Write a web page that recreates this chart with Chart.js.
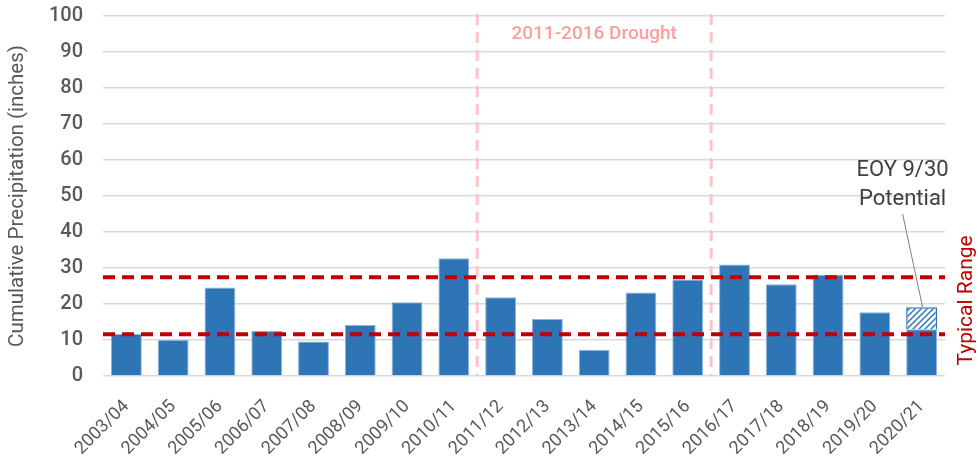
<!DOCTYPE html>
<html>
<head>
<meta charset="utf-8">
<script src="https://cdn.jsdelivr.net/npm/chart.js@4.4.1/dist/chart.umd.min.js"></script>
<style>
  html, body { margin: 0; padding: 0; background: #ffffff; }
  #wrap { width: 978px; height: 461px; position: relative; }
</style>
</head>
<body>
<div id="wrap"><canvas id="c" width="978" height="461"></canvas></div>
<script>
const seasons = ['2003/04','2004/05','2005/06','2006/07','2007/08','2008/09','2009/10','2010/11','2011/12','2012/13','2013/14','2014/15','2015/16','2016/17','2017/18','2018/19','2019/20','2020/21'];
const precipitation = [11.7, 10.0, 24.6, 12.6, 9.6, 14.2, 20.5, 32.7, 21.9, 15.8, 7.3, 23.2, 26.8, 31.0, 25.5, 28.1, 17.7, 13.0];
const eoyPotential = [null, null, null, null, null, null, null, null, null, null, null, null, null, null, null, null, null, 6.1];
const typicalLow = 11.6;
const typicalHigh = 27.4;
const droughtStartIndex = 8;   // 2011/12
const droughtEndIndex = 13;    // 2016/17
const yMin = 0, yMax = 100, yStep = 10;

const FONT = 'Roboto, "DejaVu Sans", sans-serif';
const GREY = '#595959';

function hatchPattern() {
  const p = document.createElement('canvas');
  p.width = 6; p.height = 6;
  const g = p.getContext('2d');
  g.fillStyle = '#ffffff';
  g.fillRect(0, 0, 6, 6);
  g.strokeStyle = '#2E75B6';
  g.lineWidth = 1.5;
  g.beginPath();
  g.moveTo(0, 6); g.lineTo(6, 0);
  g.moveTo(-3, 3); g.lineTo(3, -3);
  g.moveTo(3, 9); g.lineTo(9, 3);
  g.stroke();
  return g.createPattern(p, 'repeat');
}

const annotations = {
  id: 'annotations',
  afterDatasetsDraw(chart) {
    const { ctx, chartArea: { left, right, top, bottom }, scales: { x, y } } = chart;
    const between = i => (x.getPixelForValue(i - 1) + x.getPixelForValue(i)) / 2;
    const xa = between(droughtStartIndex), xb = between(droughtEndIndex);
    ctx.save();
    // drought boundaries
    ctx.strokeStyle = '#FFC4C8';
    ctx.lineWidth = 3;
    ctx.setLineDash([11, 7]);
    [xa, xb].forEach(px => {
      ctx.beginPath(); ctx.moveTo(px, top - 2); ctx.lineTo(px, bottom); ctx.stroke();
    });
    ctx.setLineDash([]);
    ctx.fillStyle = '#FF9C9C';
    ctx.font = '500 19px ' + FONT;
    ctx.textAlign = 'center';
    ctx.textBaseline = 'middle';
    ctx.fillText('2011-2016 Drought', (xa + xb) / 2, y.getPixelForValue(94.8));

    // typical range lines
    ctx.strokeStyle = '#C00000';
    ctx.lineWidth = 4;
    ctx.setLineDash([12, 7]);
    [typicalLow, typicalHigh].forEach(v => {
      const py = y.getPixelForValue(v);
      ctx.beginPath(); ctx.moveTo(left, py); ctx.lineTo(right, py); ctx.stroke();
    });
    ctx.setLineDash([]);

    // Typical Range label
    ctx.save();
    ctx.translate(right + 22, y.getPixelForValue(21));
    ctx.rotate(-Math.PI / 2);
    ctx.fillStyle = '#C00000';
    ctx.font = '21px ' + FONT;
    ctx.textAlign = 'center';
    ctx.textBaseline = 'middle';
    ctx.fillText('Typical Range', 0, 0);
    ctx.restore();

    // EOY callout
    const last = seasons.length - 1;
    const cx = x.getPixelForValue(last);
    const topVal = precipitation[last] + eoyPotential[last];
    ctx.fillStyle = '#404040';
    ctx.font = '22px ' + FONT;
    ctx.textAlign = 'center';
    ctx.textBaseline = 'middle';
    ctx.fillText('EOY 9/30', cx - 19, y.getPixelForValue(57));
    ctx.fillText('Potential', cx - 19, y.getPixelForValue(49));
    ctx.strokeStyle = '#7f7f7f';
    ctx.lineWidth = 1;
    ctx.beginPath();
    ctx.moveTo(cx - 19, y.getPixelForValue(45));
    ctx.lineTo(cx + 1, y.getPixelForValue(topVal));
    ctx.stroke();
    ctx.restore();
  }
};

new Chart(document.getElementById('c'), {
  type: 'bar',
  data: {
    labels: seasons,
    datasets: [
      {
        label: 'Cumulative Precipitation',
        data: precipitation,
        backgroundColor: '#2E75B6',
        borderColor: '#8DB4DE',
        borderWidth: 1,
        barPercentage: 0.66,
        categoryPercentage: 1.0
      },
      {
        label: 'EOY 9/30 Potential',
        data: eoyPotential,
        backgroundColor: hatchPattern(),
        borderColor: '#2E75B6',
        borderWidth: 1.5,
        barPercentage: 0.66,
        categoryPercentage: 1.0
      }
    ]
  },
  options: {
    responsive: false,
    animation: false,
    devicePixelRatio: 1,
    layout: { padding: { top: 16, right: 33, left: 0, bottom: 0 } },
    plugins: { legend: { display: false }, tooltip: { enabled: false } },
    scales: {
      x: {
        stacked: true,
        grid: { display: false },
        border: { display: false },
        ticks: {
          color: GREY,
          font: { family: FONT, size: 18 },
          minRotation: 45,
          maxRotation: 45,
          padding: 12
        },
        afterFit(scale) {
          scale.height = 85;
          scale.paddingLeft = 0; scale.paddingRight = 0;
          scale.paddingTop = 0; scale.paddingBottom = 0;
        }
      },
      y: {
        stacked: true,
        min: yMin,
        max: yMax,
        ticks: {
          stepSize: yStep,
          color: GREY,
          font: { family: FONT, size: 20, weight: '500' },
          padding: 20
        },
        grid: { color: '#D9D9D9', lineWidth: 1.5, drawTicks: false },
        border: { display: false },
        title: {
          display: true,
          text: 'Cumulative Precipitation (inches)',
          color: GREY,
          font: { family: FONT, size: 20.5 },
          padding: { top: 6, bottom: 0 }
        },
        afterFit(scale) {
          scale.width = 103;
          scale.paddingTop = 0; scale.paddingBottom = 0;
          scale.paddingLeft = 0; scale.paddingRight = 0;
        }
      }
    }
  },
  plugins: [annotations]
});
</script>
</body>
</html>
